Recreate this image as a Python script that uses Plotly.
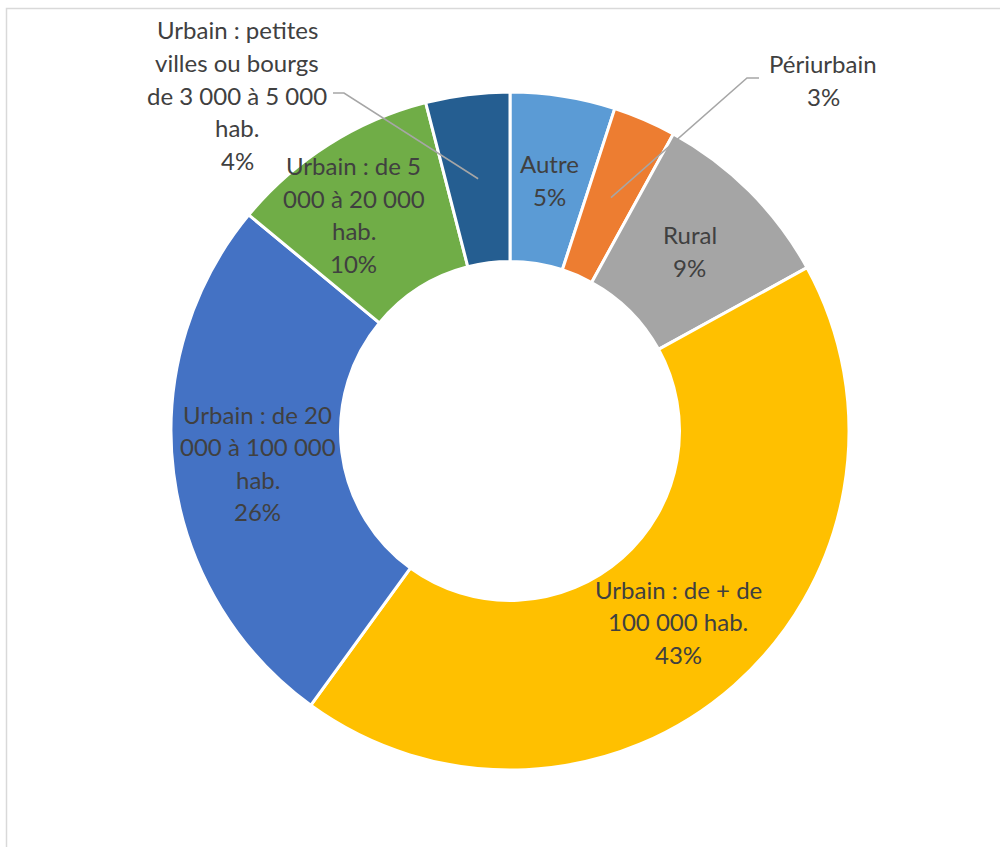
import math
import plotly.graph_objects as go

# Répartition par type de commune
labels = [
    "Autre",
    "Périurbain",
    "Rural",
    "Urbain : de + de 100 000 hab.",
    "Urbain : de 20 000 à 100 000 hab.",
    "Urbain : de 5 000 à 20 000 hab.",
    "Urbain : petites villes ou bourgs de 3 000 à 5 000 hab.",
]
values = [5, 3, 9, 43, 26, 10, 4]
colors = ["#5B9BD5", "#ED7D31", "#A5A5A5", "#FFC000", "#4472C4", "#70AD47", "#255E91"]

# Libellés affichés, ligne par ligne
label_lines = [
    ["Autre"],
    ["Périurbain"],
    ["Rural"],
    ["Urbain : de + de", "100 000 hab."],
    ["Urbain : de 20", "000 à 100 000", "hab."],
    ["Urbain : de 5", "000 à 20 000", "hab."],
    ["Urbain : petites", "villes ou bourgs", "de 3 000 à 5 000", "hab."],
]

W, H = 1000, 847
CX, CY = 510, 431          # centre of the ring, pixels
R_OUT = 339
HOLE = 0.5
R_MID = R_OUT * (1 + HOLE) / 2
LINE_H = 32.5

FONT = dict(family="Lato, 'Open Sans', sans-serif", size=24, color="#404040")


def px_to_paper(x, y):
    return x / W, (H - y) / H


def ring_point(frac, r):
    ang = 2 * math.pi * frac
    return CX + r * math.sin(ang), CY - r * math.cos(ang)


total = sum(values)
mids = []
acc = 0
for v in values:
    mids.append((acc + v / 2) / total)
    acc += v

fig = go.Figure(
    go.Pie(
        labels=labels,
        values=values,
        hole=HOLE,
        sort=False,
        direction="clockwise",
        rotation=0,
        marker=dict(colors=colors, line=dict(color="white", width=3)),
        textinfo="none",
        showlegend=False,
        domain=dict(
            x=[(CX - R_OUT) / W, (CX + R_OUT) / W],
            y=[(H - CY - R_OUT) / H, (H - CY + R_OUT) / H],
        ),
    )
)

annotations = []
shapes = []

# two labels sit outside the ring with a leader line
outside = {1: (823, 80, 759, 78, 747), 6: (237, 95, 333, 93, 344)}
# small nudge so the label stays clear of the neighbouring slice
nudge = {5: (-20, -2)}
for i, (lines, v) in enumerate(zip(label_lines, values)):
    lines = lines + [f"{v}%"]
    if i in outside:
        cx, cy, sx, sy, kx = outside[i]
        ex, ey = ring_point(mids[i], R_MID)
        p0 = px_to_paper(sx, sy)
        p1 = px_to_paper(kx, sy)
        p2 = px_to_paper(ex, ey)
        shapes.append(dict(
            type="path", xref="paper", yref="paper",
            path=f"M {p0[0]},{p0[1]} L {p1[0]},{p1[1]} L {p2[0]},{p2[1]}",
            line=dict(color="#A6A6A6", width=1.5),
        ))
    else:
        cx, cy = ring_point(mids[i], R_MID)
        dx, dy = nudge.get(i, (0, 0))
        cx, cy = cx + dx, cy + dy
    n = len(lines)
    for k, line in enumerate(lines):
        ly = cy + (k - (n - 1) / 2) * LINE_H
        ax, ay = px_to_paper(cx, ly)
        annotations.append(dict(
            x=ax, y=ay, xref="paper", yref="paper", text=line,
            showarrow=False, font=FONT, align="center",
            xanchor="center", yanchor="middle",
        ))

# chart frame
f0 = px_to_paper(6.5, 8.5)
shapes.append(dict(
    type="rect", xref="paper", yref="paper",
    x0=f0[0], y0=-0.05, x1=1.05, y1=f0[1],
    line=dict(color="#D9D9D9", width=1.5), layer="below",
))

fig.update_layout(
    width=W, height=H,
    margin=dict(l=0, r=0, t=0, b=0),
    paper_bgcolor="white",
    plot_bgcolor="white",
    annotations=annotations,
    shapes=shapes,
)

fig.write_html("out.html")
